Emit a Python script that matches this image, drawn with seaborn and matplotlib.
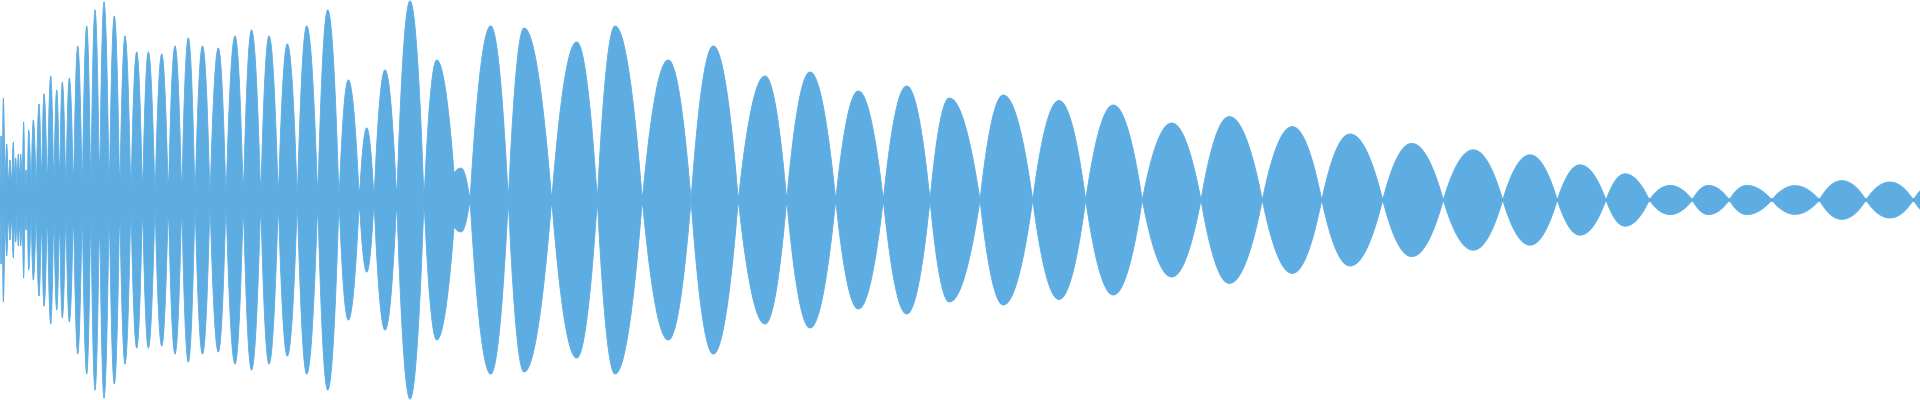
import numpy as np
import pandas as pd
import seaborn as sns
import matplotlib
matplotlib.use("Agg")
import matplotlib.pyplot as plt

# zero crossings of the envelope (in pixel columns of the 1920 px timeline)
nodes = [0, 2.2, 5, 8.3, 11.7, 14.5, 17, 19.5, 22.2, 24.8, 27.3, 31, 36.2, 41.5, 47.3,
         53.7, 59.5, 65.8, 73.5, 82.2, 90.8, 99.5, 109.2, 119.7, 130.8, 142.5, 155, 168.3,
         181.7, 195, 210, 226, 243.3, 260.7, 278.3, 297.3, 317.7, 339, 359.3, 374, 396.7,
         424, 470, 508.3, 551.7, 597.3, 642.3, 691, 738.3, 786.7, 835.7, 883.3, 930, 980,
         1032.7, 1085.7, 1142.3, 1201, 1262.3, 1321.7, 1382.7, 1443.3, 1502.7, 1557.3,
         1606, 1649.3, 1692.3, 1729.3, 1771.7, 1819.3, 1866, 1913.3, 1960]

# one peak per lobe: position and amplitude (1 = full height)
peak_x = [1, 3.3, 6.7, 10, 13.3, 15.7, 18.3, 20.7, 23.7, 26, 28.7, 33.3, 39, 44, 50.7,
          56.7, 62.3, 69.3, 77.7, 86.7, 95, 104, 114.3, 125, 136.7, 148.3, 161.7, 175,
          188.3, 202.5, 218.3, 235, 251.5, 269, 287.3, 306.7, 327.7, 348.3, 366.7, 385,
          410, 436.7, 490.7, 524, 576.7, 615, 668.3, 713.3, 765, 810, 858.3, 906.7, 949.3,
          1003.3, 1059, 1113.3, 1171.7, 1229.3, 1292.3, 1350, 1411.7, 1473.3, 1530, 1580,
          1625, 1670, 1708.3, 1746.7, 1795, 1841.7, 1890, 1936]
peak_amp = [0.32, 0.51, 0.28, 0.20, 0.29, 0.21, 0.23, 0.23, 0.39, 0.15, 0.35, 0.40, 0.48,
            0.53, 0.62, 0.55, 0.59, 0.61, 0.77, 0.87, 0.95, 0.99, 0.92, 0.82, 0.74, 0.74,
            0.73, 0.77, 0.81, 0.77, 0.76, 0.82, 0.85, 0.82, 0.78, 0.87, 0.95, 0.60, 0.36,
            0.65, 0.995, 0.70, 0.87, 0.86, 0.79, 0.87, 0.70, 0.77, 0.62, 0.64, 0.545, 0.57,
            0.51, 0.525, 0.497, 0.475, 0.385, 0.417, 0.367, 0.33, 0.283, 0.251, 0.226,
            0.176, 0.131, 0.073, 0.073, 0.073, 0.072, 0.097, 0.09, 0.09]

# the lobe after the big spike falls early and leaves a low shoulder
fall_end = {41: 456}
shoulder_start = [444]
shoulder_peak = [461]
shoulder_end = [470]
shoulder_amp = [0.16]

# thin band that is always filled around the centre line
floor_edges = [0, 200, 410, 900, 1920]
floor_levels = [0.055, 0.045, 0.012, 0.007]

COLOR = "#5dade2"
SHAPE_Q = 2  # parabolic lobes, pointed at each zero crossing


def lobe(x, start, peak, end, amp):
    y = np.zeros_like(x)
    up = (x >= start) & (x <= peak)
    dn = (x > peak) & (x <= end)
    s_up = (peak - x[up]) / max(peak - start, 1e-6)
    s_dn = (x[dn] - peak) / max(end - peak, 1e-6)
    y[up] = amp * (1 - s_up ** SHAPE_Q)
    y[dn] = amp * (1 - s_dn ** SHAPE_Q)
    return y


x = np.arange(0, 1920.25, 0.25)
env = np.zeros_like(x)
for i, (px, pa) in enumerate(zip(peak_x, peak_amp)):
    env = np.maximum(env, lobe(x, nodes[i], px, fall_end.get(i, nodes[i + 1]), pa))
for s, p, e, a in zip(shoulder_start, shoulder_peak, shoulder_end, shoulder_amp):
    env = np.maximum(env, lobe(x, s, p, e, a))
idx = np.clip(np.searchsorted(floor_edges, x, side="right") - 1, 0, len(floor_levels) - 1)
env = np.maximum(env, np.array(floor_levels)[idx])

df = pd.DataFrame({"t": x, "upper": env, "lower": -env})

sns.set_theme(style="white")
fig = plt.figure(figsize=(19.2, 4), dpi=100)
ax = fig.add_axes([0, 0, 1, 1])
ax.fill_between(df["t"], df["lower"], df["upper"], color=COLOR, linewidth=0)
sns.lineplot(data=df, x="t", y="upper", ax=ax, color=COLOR, linewidth=0.6)
sns.lineplot(data=df, x="t", y="lower", ax=ax, color=COLOR, linewidth=0.6)
ax.set_xlim(0, 1920)
ax.set_ylim(-1, 1)
ax.axis("off")
fig.savefig("out.png", dpi=100, facecolor="white")
